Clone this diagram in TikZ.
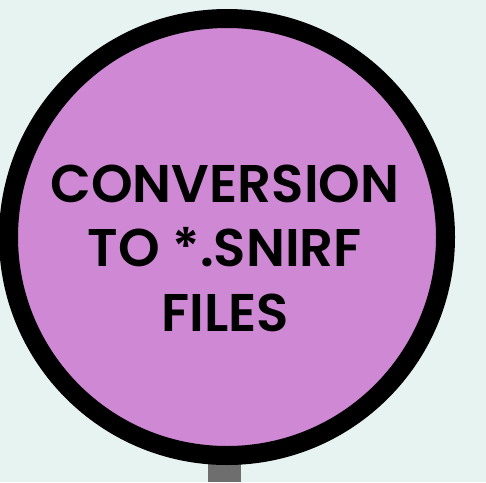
\documentclass[tikz,border=0pt]{standalone}
\usepackage{fontspec}
\setmainfont{Poppins}[BoldFont={* SemiBold}]
\definecolor{bgmint}{RGB}{230,243,241}
\definecolor{orchidfill}{RGB}{207,137,212}
\definecolor{stemgray}{RGB}{110,110,110}
\tikzset{
  signdisc/.style={circle, draw=black, line width=19pt, fill=orchidfill, minimum size=437pt, inner sep=0pt},
  signtext/.style={align=center, font=\fontsize{53}{64.5}\selectfont\bfseries, text=black, text depth=0pt, inner sep=0pt}
}
\begin{document}
\begin{tikzpicture}[x=1pt,y=-1pt]
\fill[bgmint] (0,0) rectangle (486,482);
\useasboundingbox (0,0) rectangle (486,482);
\fill[stemgray] (208,440) rectangle (241,482);
\node[signdisc] (disc) at (227,237) {};
\node[signtext] (label) at (225,248) {CONVERSION\\TO *.SNIRF\\FILES};
\end{tikzpicture}
\end{document}
